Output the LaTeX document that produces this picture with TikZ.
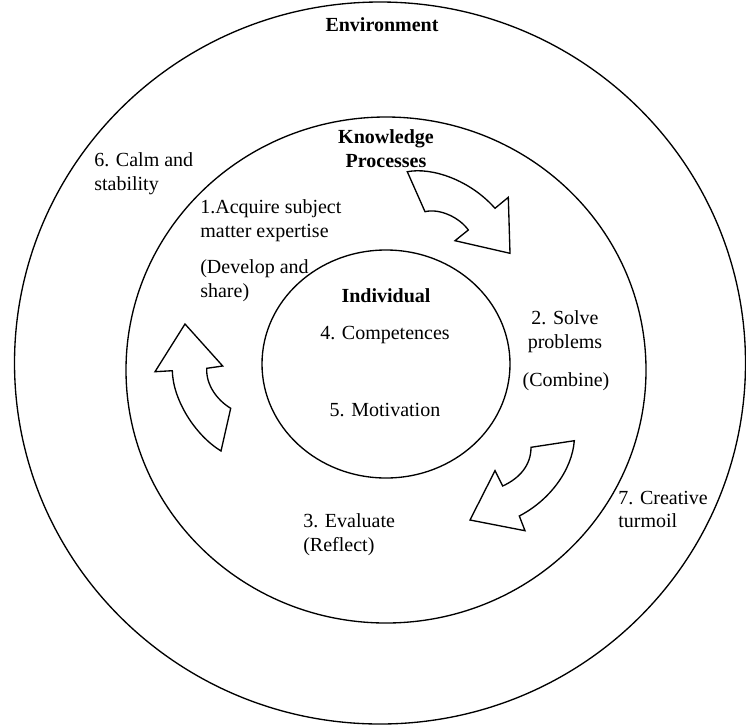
\documentclass[tikz,border=0pt]{standalone}
\usepackage{fontspec}
\setmainfont{Liberation Serif}
\begin{document}
\begin{tikzpicture}[x=0.6pt,y=-0.6pt,
  ring/.style={draw=black,line width=0.8pt},
  blockarrow/.style={draw=black,fill=white,line width=0.8pt,line join=miter},
  txt/.style={inner sep=0pt,font=\fontsize{12}{14}\selectfont},
  ltxt/.style={txt,anchor=base west,align=left},
  ctxt/.style={txt,anchor=base,align=center},
  btxt/.style={ctxt,font=\fontsize{12}{14}\selectfont\bfseries}]
\useasboundingbox (0,0) rectangle (746,725);
% rings
\draw[ring] (380,363) ellipse [x radius=219.3pt, y radius=216.6pt];
\draw[ring] (386,370) ellipse [x radius=156pt, y radius=151.8pt];
\draw[ring] (386,364) ellipse [x radius=74.4pt, y radius=68.4pt];
% coordinates of block arrows
\coordinate (a1A) at (407.3,171.7);
\coordinate (a1B) at (425,211.7);
\coordinate (a1C) at (468.3,230);
\coordinate (a1D) at (455,240.7);
\coordinate (a1E) at (510,253.3);
\coordinate (a1F) at (508.3,197.3);
\coordinate (a1G) at (495,208.3);
\draw[blockarrow] (a1A) .. controls (432,167) and (470,180) .. (a1G) -- (a1F) -- (a1E) -- (a1D) -- (a1C)
  .. controls (460,218) and (440,208) .. (a1B) -- cycle;
\coordinate (a2T) at (185,324);
\coordinate (a2LB) at (155,371.7);
\coordinate (a2LS) at (172.3,370.7);
\coordinate (a2TO) at (221,451);
\coordinate (a2TI) at (230.7,408.3);
\coordinate (a2RS) at (206.7,368.3);
\coordinate (a2RB) at (222.7,366);
\draw[blockarrow] (a2T) -- (a2LB) -- (a2LS) .. controls (173,400) and (195,435) .. (a2TO) -- (a2TI)
  .. controls (217,400) and (206,385) .. (a2RS) -- (a2RB) -- cycle;
\coordinate (a3TO) at (574.3,440.7);
\coordinate (a3TI) at (531,447.3);
\coordinate (a3IS) at (502.7,486);
\coordinate (a3IB) at (495,470.7);
\coordinate (a3T) at (470,520);
\coordinate (a3OB) at (525,530.7);
\coordinate (a3OS) at (519.3,516);
\draw[blockarrow] (a3TO) -- (a3TI) .. controls (531,465) and (520,478) .. (a3IS) -- (a3IB) -- (a3T) -- (a3OB) -- (a3OS)
  .. controls (550,500) and (572,470) .. cycle;
% texts (multi-line nodes: base = last line)
\node[btxt] (env) at (382,31) {Environment};
\node[btxt] (kp) at (386,167) {Knowledge\\Processes};
\node[ltxt] (calm) at (94,190) {6. Calm and\\stability};
\node[ltxt] (acq) at (200,237) {1.Acquire subject\\matter expertise};
\node[ltxt] (dev) at (200,297) {(Develop and\\share)};
\node[btxt] (ind) at (386,302) {Individual};
\node[ctxt] (comp) at (385,339) {4. Competences};
\node[ctxt] (mot) at (385,416) {5. Motivation};
\node[ctxt] (solve) at (565,348) {2. Solve\\problems};
\node[ctxt] (comb) at (566,386) {(Combine)};
\node[ltxt] (eval) at (303,551) {3. Evaluate\\(Reflect)};
\node[ltxt] (turm) at (618,527.5) {7. Creative\\turmoil};
\end{tikzpicture}
\end{document}
